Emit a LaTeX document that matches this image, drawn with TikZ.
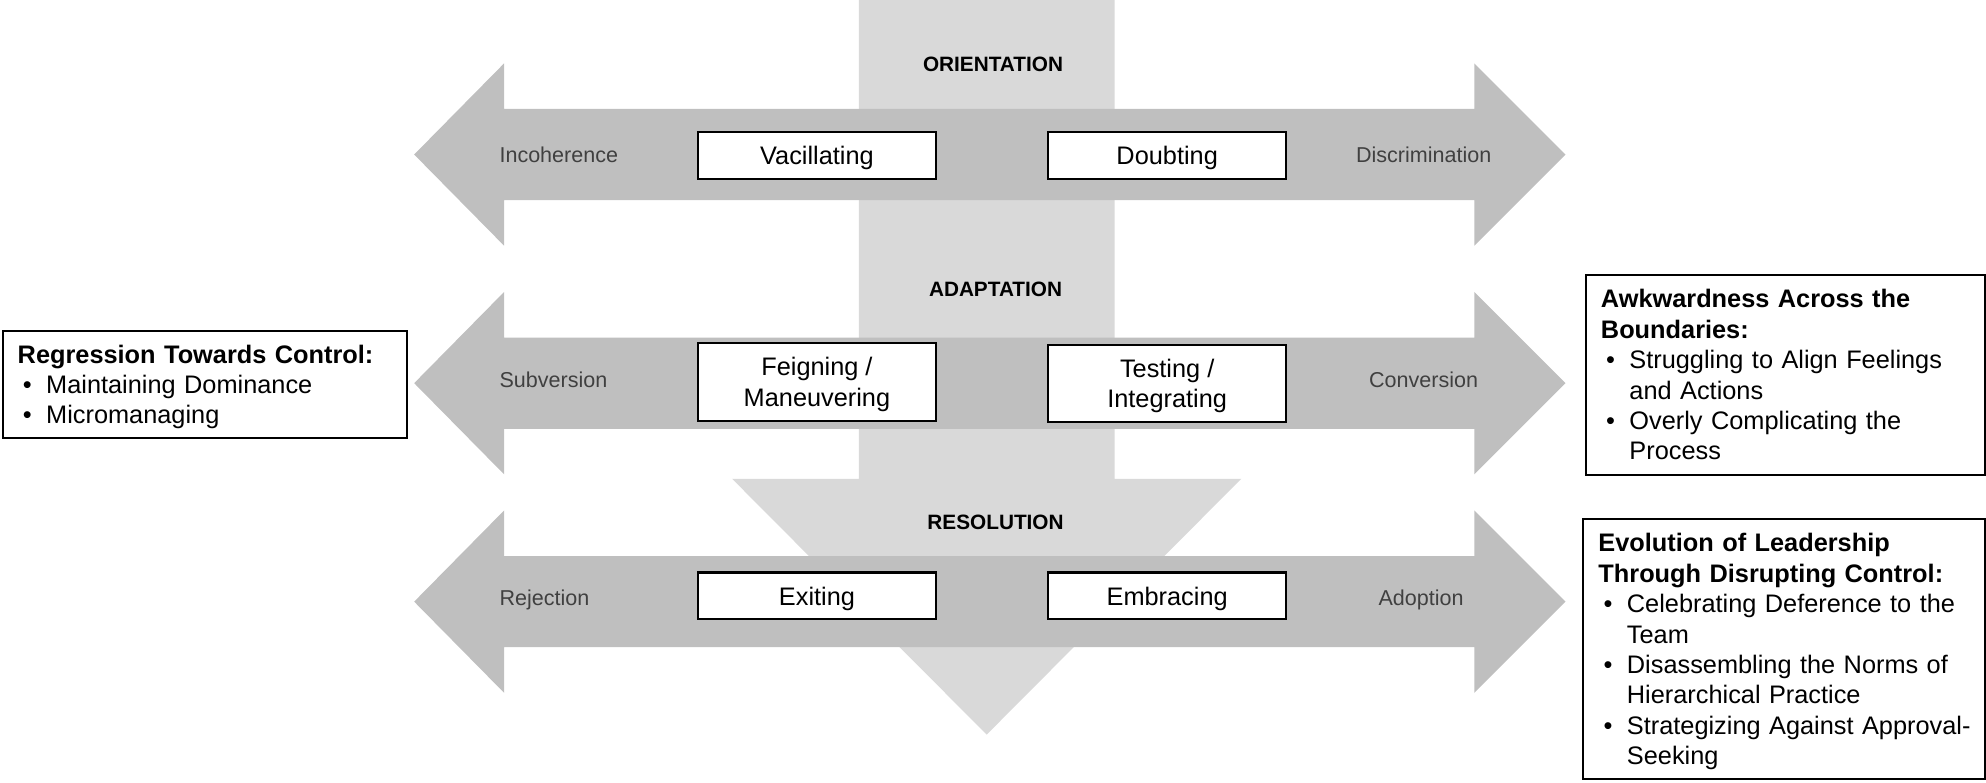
\documentclass[tikz,border=0pt]{standalone}
\usepackage{fontspec}
\setmainfont{Liberation Sans}
\definecolor{bandgray}{HTML}{D9D9D9}
\definecolor{arrowgray}{HTML}{BFBFBF}
\definecolor{labelgray}{HTML}{404040}
% text whose descenders do not count for vertical centring
\newcommand\nodesc[1]{\raisebox{0pt}[\height][0pt]{#1}}
% bullet line and its hanging continuation
\newcommand\bul[1]{\mbox{\makebox[11.25pt][l]{\hspace{2pt}\textbullet}#1}}
\newcommand\contline[1]{\mbox{\hspace*{11.25pt}#1}}
% two-headed horizontal arrow centred at height #1
\newcommand\twowayarrow[1]{%
  \fill[arrowgray] (327,#1) -- (398,#1-72) -- (398,#1-36) -- (1164,#1-36)
    -- (1164,#1-72) -- (1236,#1) -- (1164,#1+72) -- (1164,#1+36)
    -- (398,#1+36) -- (398,#1+72) -- cycle;}
\begin{document}
\begin{tikzpicture}[x=0.5pt,y=-0.5pt,
  stagebox/.style={draw=black, line width=0.8pt, fill=white, minimum width=94pt,
    inner sep=1pt, align=center, font=\fontsize{10}{12}\selectfont},
  single/.style={minimum height=18.5pt},
  double/.style={minimum height=30.5pt},
  polelabel/.style={text=labelgray, font=\fontsize{8.5}{10}\selectfont, inner sep=0pt},
  phase/.style={font=\fontsize{8.2}{10}\selectfont\bfseries, inner sep=0pt, anchor=mid},
  notebox/.style={draw=black, line width=0.8pt, fill=white, align=left,
    inner xsep=6pt, inner ysep=2pt, font=\fontsize{10}{12}\selectfont}
]
\useasboundingbox (0,0) rectangle (1568,618);

% downward process band
\fill[bandgray] (678,0) -- (880,0) -- (880,378) -- (980,378) -- (779,580)
  -- (578,378) -- (678,378) -- cycle;

% three continua
\twowayarrow{122}
\twowayarrow{302.5}
\twowayarrow{475}

% phase headings
\node[phase] (orient) at (784,51) {ORIENTATION};
\node[phase] (adapt) at (786,229) {ADAPTATION};
\node[phase] (resol) at (786,413) {RESOLUTION};

% poles of each continuum
\node[polelabel, anchor=mid west] (incoh) at (394,123) {Incoherence};
\node[polelabel, anchor=mid] (discr) at (1124,123) {Discrimination};
\node[polelabel, anchor=mid west] (subv) at (394,301) {Subversion};
\node[polelabel, anchor=mid] (conv) at (1124,301) {Conversion};
\node[polelabel, anchor=mid west] (rejec) at (394,473) {Rejection};
\node[polelabel, anchor=mid] (adopt) at (1122,473) {Adoption};

% stage boxes
\node[stagebox, single] (vac) at (645,122.5) {\nodesc{Vacillating}};
\node[stagebox, single] (dou) at (921.5,122.5) {\nodesc{Doubting}};
\node[stagebox, double] (fei) at (645,301.5) {Feigning /\\\nodesc{Maneuvering}};
\node[stagebox, double] (tes) at (921.5,302.5) {Testing /\\\nodesc{Integrating}};
\node[stagebox, single] (exi) at (645,470.5) {\nodesc{Exiting}};
\node[stagebox, single] (emb) at (921.5,470.5) {\nodesc{Embracing}};

% outcome notes
\node[notebox, text width=147.5pt, minimum height=42.5pt] (regr) at (161.5,303.5)
  {\textbf{Regression Towards Control:}\\
   \bul{Maintaining Dominance}\\
   \bul{\nodesc{Micromanaging}}};
\node[notebox, text width=145.5pt, minimum height=79pt] (awk) at (1409.5,296)
  {\textbf{Awkwardness Across the}\\
   \textbf{Boundaries:}\\
   \bul{Struggling to Align Feelings}\\
   \contline{and Actions}\\
   \bul{Overly Complicating the}\\
   \contline{Process}};
\node[notebox, text width=146.5pt, minimum height=102.5pt] (evol) at (1408.5,512.5)
  {\textbf{Evolution of Leadership}\\
   \textbf{Through Disrupting Control:}\\
   \bul{Celebrating Deference to the}\\
   \contline{Team}\\
   \bul{Disassembling the Norms of}\\
   \contline{Hierarchical Practice}\\
   \bul{Strategizing Against Approval-}\\
   \contline{\nodesc{Seeking}}};
\end{tikzpicture}
\end{document}
